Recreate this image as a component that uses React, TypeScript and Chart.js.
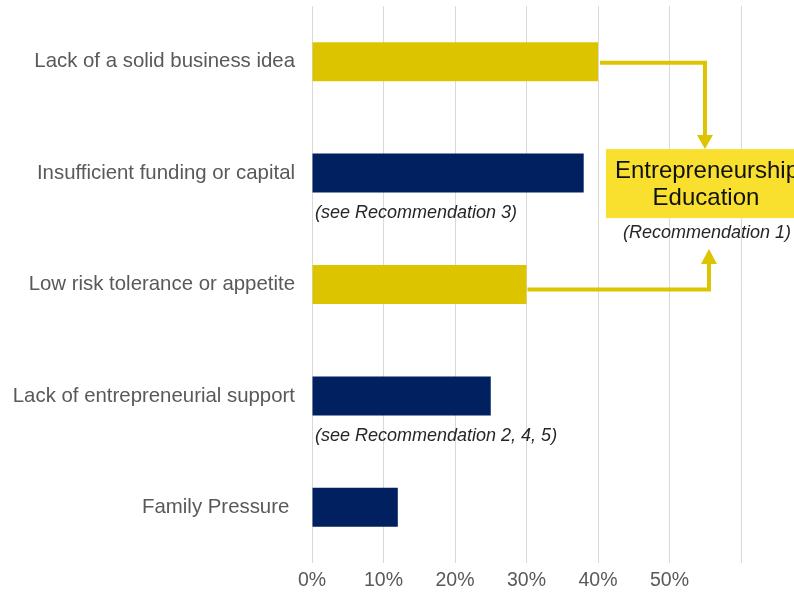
import React, { useEffect, useRef } from 'react';
import { Chart, registerables } from 'chart.js';

Chart.register(...registerables);

const categories = [
  'Lack of a solid business idea',
  'Insufficient funding or capital',
  'Low risk tolerance or appetite',
  'Lack of entrepreneurial support',
  'Family Pressure ',
];
const values = [40, 38, 30, 25, 12];
const barColors = ['#DDC400', '#002060', '#DDC400', '#002060', '#002060'];
const xTickLabels = ['0%', '10%', '20%', '30%', '40%', '50%', ''];
const noteIndexes = [1, 3];
const noteTexts = ['(see Recommendation 3)', '(see Recommendation 2, 4, 5)'];
const arrowFromIndexes = [0, 2];
const boxLines = ['Entrepreneurship', 'Education'];
const boxNote = '(Recommendation 1)';
const boxValue = 55.1;

const FONT = '"Liberation Sans", Arial, sans-serif';

const annotationPlugin = {
  id: 'annot',
  afterDraw(chart: any) {
    const ctx = chart.ctx as CanvasRenderingContext2D;
    const xs = chart.scales.x;
    const ys = chart.scales.y;
    const arrowColor = '#DDC400';
    const ax = xs.getPixelForValue(boxValue);
    const yTop = ys.getPixelForValue(1) - 24;
    const yBot = ys.getPixelForValue(1) + 45;
    ctx.save();

    // notes under bars
    ctx.font = `italic 18px ${FONT}`;
    ctx.fillStyle = '#262626';
    ctx.textAlign = 'left';
    ctx.textBaseline = 'middle';
    noteIndexes.forEach((idx, i) => {
      ctx.fillText(noteTexts[i], xs.getPixelForValue(0) + 3, ys.getPixelForValue(idx) + 40);
    });

    // box
    ctx.fillStyle = '#F9DF2E';
    ctx.fillRect(ax - 100, yTop, chart.width - (ax - 100), yBot - yTop);
    ctx.fillStyle = '#111111';
    ctx.font = `24px ${FONT}`;
    ctx.textAlign = 'center';
    ctx.fillText(boxLines[0], ax + 1, yTop + 22);
    ctx.fillText(boxLines[1], ax, yTop + 49);
    ctx.font = `italic 18px ${FONT}`;
    ctx.fillStyle = '#262626';
    ctx.fillText(boxNote, ax + 1, yBot + 15);

    // arrows
    ctx.strokeStyle = arrowColor;
    ctx.fillStyle = arrowColor;
    ctx.lineWidth = 4;
    ctx.lineJoin = 'miter';
    // top arrow: from bar 0 end to box top
    {
      const sx = xs.getPixelForValue(values[arrowFromIndexes[0]]) + 2;
      const sy = ys.getPixelForValue(arrowFromIndexes[0]) + 1;
      const vx = ax - 1;
      const tip = yTop;
      ctx.beginPath();
      ctx.moveTo(sx, sy);
      ctx.lineTo(vx, sy);
      ctx.lineTo(vx, tip - 13);
      ctx.stroke();
      ctx.beginPath();
      ctx.moveTo(vx - 8, tip - 14);
      ctx.lineTo(vx + 8, tip - 14);
      ctx.lineTo(vx, tip);
      ctx.closePath();
      ctx.fill();
    }
    // bottom arrow: from bar 2 end up to note
    {
      const sx = xs.getPixelForValue(values[arrowFromIndexes[1]]) + 1;
      const sy = ys.getPixelForValue(arrowFromIndexes[1]) + 5;
      const vx = ax + 3;
      const tip = yBot + 31;
      ctx.beginPath();
      ctx.moveTo(sx, sy);
      ctx.lineTo(vx, sy);
      ctx.lineTo(vx, tip + 14);
      ctx.stroke();
      ctx.beginPath();
      ctx.moveTo(vx - 8, tip + 15);
      ctx.lineTo(vx + 8, tip + 15);
      ctx.lineTo(vx, tip);
      ctx.closePath();
      ctx.fill();
    }
    ctx.restore();
  },
};

export default function App() {
  const ref = useRef<HTMLCanvasElement | null>(null);
  useEffect(() => {
    document.body.style.margin = '0';
    if (!ref.current) return;
    const chart = new Chart(ref.current, {
      type: 'bar',
      data: {
        labels: categories,
        datasets: [
          {
            data: values,
            backgroundColor: barColors,
            borderWidth: 0,
            categoryPercentage: 1,
            barPercentage: 0.35,
          },
        ],
      },
      options: {
        indexAxis: 'y',
        animation: false,
        responsive: false,
        layout: { padding: { top: 6, right: 53, left: 0, bottom: 0 } },
        plugins: { legend: { display: false }, tooltip: { enabled: false } },
        scales: {
          x: {
            min: 0,
            max: 60,
            ticks: {
              stepSize: 10,
              color: '#595959',
              font: { family: FONT, size: 19.5 },
              padding: 6,
              callback: (_v: any, i: number) => xTickLabels[i],
            },
            grid: { color: '#D9D9D9', lineWidth: 1, drawTicks: false },
            border: { display: false },
            afterFit: (s: any) => {
              s.height = 32;
              s.paddingLeft = 0;
              s.paddingRight = 0;
            },
          },
          y: {
            ticks: {
              color: '#595959',
              font: { family: FONT, size: 20.4 },
              padding: 17,
            },
            grid: { display: false, drawTicks: false },
            border: { display: false },
            afterFit: (s: any) => {
              s.width = 312;
              s.paddingTop = 0;
              s.paddingBottom = 0;
            },
          },
        },
      },
      plugins: [annotationPlugin],
    });
    return () => chart.destroy();
  }, []);
  return (
    <div style={{ position: 'fixed', left: 0, top: 0, width: 794, height: 595, background: '#fff' }}>
      <canvas ref={ref} width={794} height={595} />
    </div>
  );
}
